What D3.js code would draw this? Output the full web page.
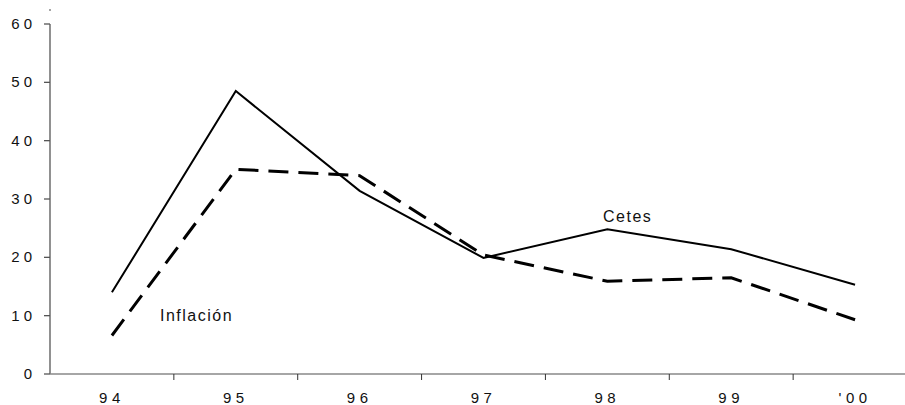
<!DOCTYPE html>
<html>
<head>
<meta charset="utf-8">
<script src="https://cdn.jsdelivr.net/npm/d3@7/dist/d3.min.js"></script>
<style>
  body { margin: 0; background: #fff; }
  svg { display: block; font-family: "Liberation Sans", Arial, sans-serif; }
</style>
</head>
<body>
<svg id="chart" width="905" height="405"></svg>
<script>
// data
var years = ["94", "95", "96", "97", "98", "99", "'00"];
var cetes = [14, 48.5, 31.4, 19.9, 24.8, 21.4, 15.3];
var inflacion = [6.6, 35.1, 34.0, 20.4, 15.9, 16.5, 9.3];
var yTicks = [0, 10, 20, 30, 40, 50, 60];

var svg = d3.select("#chart");
var margin = {top: 24, left: 50, bottom: 31},
    width = 867,
    height = 405 - margin.top - margin.bottom;

var x = d3.scaleBand().domain(years).range([0, width]);
var y = d3.scaleLinear().domain([0, 60]).range([height, 0]);

var g = svg.append("g")
  .attr("transform", "translate(" + margin.left + "," + margin.top + ")");

// y axis
g.append("line")
  .attr("x1", 0).attr("x2", 0)
  .attr("y1", y(60)).attr("y2", y(0))
  .style("stroke", "#555").style("stroke-width", 1.3);

g.selectAll(".ytick")
  .data(yTicks)
  .enter().append("line")
  .attr("class", "ytick")
  .attr("x1", -6).attr("x2", 0)
  .attr("y1", function(d) { return y(d); })
  .attr("y2", function(d) { return y(d); })
  .style("stroke", "#555").style("stroke-width", 1.3);

g.selectAll(".ylab")
  .data(yTicks)
  .enter().append("text")
  .attr("class", "ylab")
  .attr("x", -14)
  .attr("y", function(d) { return y(d) + 5; })
  .attr("text-anchor", "end")
  .style("font-size", "15px")
  .style("letter-spacing", "4px")
  .style("fill", "#111")
  .text(function(d) { return d; });

// tiny dot above the axis
g.append("circle")
  .attr("cx", 0).attr("cy", -14).attr("r", 0.8)
  .style("fill", "#333");

// x axis
g.append("line")
  .attr("x1", 0).attr("x2", width)
  .attr("y1", y(0)).attr("y2", y(0))
  .style("stroke", "#888").style("stroke-width", 1.3);

g.selectAll(".xtick")
  .data(years.slice(1))
  .enter().append("line")
  .attr("class", "xtick")
  .attr("x1", function(d) { return x(d); })
  .attr("x2", function(d) { return x(d); })
  .attr("y1", y(0)).attr("y2", y(0) + 6)
  .style("stroke", "#333").style("stroke-width", 1);

g.selectAll(".xlab")
  .data(years)
  .enter().append("text")
  .attr("class", "xlab")
  .attr("x", function(d) { return x(d) + x.bandwidth() / 2; })
  .attr("y", y(0) + 29)
  .attr("text-anchor", "middle")
  .style("font-size", "15px")
  .style("letter-spacing", "4.5px")
  .style("fill", "#111")
  .text(function(d) { return d; });

var line = d3.line()
  .x(function(d, i) { return x(years[i]) + x.bandwidth() / 2; })
  .y(function(d) { return y(d); });

g.append("path")
  .datum(cetes)
  .attr("d", line)
  .style("fill", "none")
  .style("stroke", "#000")
  .style("stroke-width", 2);

g.append("path")
  .datum(inflacion)
  .attr("d", line)
  .style("fill", "none")
  .style("stroke", "#000")
  .style("stroke-width", 3)
  .style("stroke-dasharray", "20,10");

// series labels
g.append("text")
  .attr("x", 553)
  .attr("y", 198)
  .style("font-size", "16px")
  .style("letter-spacing", "1.5px")
  .style("fill", "#111")
  .text("Cetes");

g.append("text")
  .attr("x", 110)
  .attr("y", 297)
  .style("font-size", "16px")
  .style("letter-spacing", "1.5px")
  .style("fill", "#111")
  .text("Inflación");
</script>
</body>
</html>
